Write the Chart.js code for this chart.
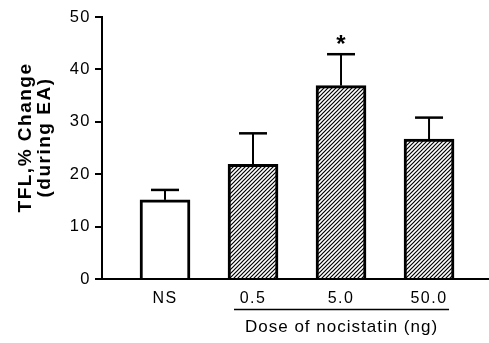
<!DOCTYPE html>
<html>
<head>
<meta charset="utf-8">
<script src="https://cdn.jsdelivr.net/npm/chart.js@4"></script>
<style>body{margin:0;background:#fff}</style>
</head>
<body>
<canvas id="chart" width="489" height="343"></canvas>
<script>
const groups = ['NS', '0.5', '5.0', '50.0'];
const positions = [1, 2, 3, 4];
const means = [15.1, 21.9, 36.9, 26.7];
const sems = [1.9, 5.9, 6.0, 4.1];
const marks = ['', '', '*', ''];
const yTicks = [0, 10, 20, 30, 40, 50];
const yTitle = ['TFL,% Change', '(during EA)'];
const doseTitle = 'Dose of nocistatin (ng)';
const hatched = [false, true, true, true];

const FONT = '"Liberation Sans", Arial, sans-serif';

function makeHatch() {
  const c = document.createElement('canvas');
  c.width = 4; c.height = 4;
  const g = c.getContext('2d');
  g.fillStyle = '#fff';
  g.fillRect(0, 0, 4, 4);
  g.strokeStyle = '#000';
  g.lineWidth = 1.2;
  g.beginPath();
  g.moveTo(-1, 5); g.lineTo(5, -1);
  g.moveTo(-1, 1); g.lineTo(1, -1);
  g.moveTo(3, 5); g.lineTo(5, 3);
  g.stroke();
  return g.createPattern(c, 'repeat');
}
const hatch = makeHatch();

// letter spacing for the axis text, like the scanned figure
const spacing = {
  id: 'spacing',
  beforeDraw(chart) {
    chart.ctx.letterSpacing = '1.5px';
  }
};

const extras = {
  id: 'extras',
  afterDatasetsDraw(chart) {
    const ctx = chart.ctx;
    const x = chart.scales.x, y = chart.scales.y;
    ctx.save();
    ctx.strokeStyle = '#000';
    ctx.fillStyle = '#000';
    for (let i = 0; i < means.length; i++) {
      const px = x.getPixelForValue(positions[i]);
      const y0 = y.getPixelForValue(means[i]);
      const y1 = y.getPixelForValue(means[i] + sems[i]);
      ctx.lineWidth = 2;
      ctx.beginPath();
      ctx.moveTo(px, y0);
      ctx.lineTo(px, y1);
      ctx.stroke();
      ctx.lineWidth = 2.5;
      ctx.beginPath();
      ctx.moveTo(px - 14, y1);
      ctx.lineTo(px + 14, y1);
      ctx.stroke();
      if (marks[i]) {
        ctx.letterSpacing = '0px';
        ctx.font = 'bold 24px ' + FONT;
        ctx.textAlign = 'center';
        ctx.textBaseline = 'alphabetic';
        ctx.fillText(marks[i], px, y1 - 2);
      }
    }
    ctx.restore();
  },
  afterDraw(chart) {
    const ctx = chart.ctx;
    const x = chart.scales.x;
    ctx.save();
    ctx.fillStyle = '#000';
    ctx.strokeStyle = '#000';
    // underline below the doses
    const x1 = x.getPixelForValue(positions[1]) - 19;
    const x2 = x.getPixelForValue(positions[3]) + 20;
    ctx.lineWidth = 1.5;
    ctx.beginPath();
    ctx.moveTo(x1, 309.5);
    ctx.lineTo(x2, 309.5);
    ctx.stroke();
    ctx.letterSpacing = '1px';
    ctx.font = '17px ' + FONT;
    ctx.textAlign = 'center';
    ctx.textBaseline = 'alphabetic';
    ctx.fillText(doseTitle, (x1 + x2) / 2, 332);
    // y title
    ctx.letterSpacing = '1.5px';
    ctx.font = 'bold 19px ' + FONT;
    ctx.translate(0, 137.5);
    ctx.rotate(-Math.PI / 2);
    ctx.fillText(yTitle[0], 0, 31);
    ctx.fillText(yTitle[1], 0, 50);
    ctx.restore();
  }
};

new Chart(document.getElementById('chart'), {
  type: 'bar',
  data: {
    datasets: [{
      data: positions.map((p, i) => ({x: p, y: means[i]})),
      backgroundColor: hatched.map(h => h ? hatch : '#ffffff'),
      borderColor: '#000',
      borderWidth: 3,
      barThickness: 50
    }]
  },
  options: {
    responsive: false,
    animation: false,
    layout: { padding: { top: 17, right: 1, left: 0, bottom: 0 } },
    plugins: { legend: { display: false }, tooltip: { enabled: false } },
    scales: {
      x: {
        type: 'linear',
        offset: false,
        min: 0.284,
        max: 4.67,
        afterBuildTicks: s => { s.ticks = positions.map(v => ({value: v})); },
        afterFit: s => { s.height = 64; },
        grid: { display: false, drawTicks: false },
        border: { color: '#000', width: 2 },
        ticks: {
          color: '#000',
          padding: 10,
          font: { family: FONT, size: 16 },
          callback: v => groups[positions.indexOf(v)]
        }
      },
      y: {
        min: 0,
        max: 50,
        afterBuildTicks: s => { s.ticks = yTicks.map(v => ({value: v})); },
        afterFit: s => { s.width = 102; },
        grid: { drawOnChartArea: false, color: '#000', lineWidth: 2, tickLength: 7 },
        border: { color: '#000', width: 2 },
        ticks: {
          color: '#000',
          padding: 4,
          font: { family: FONT, size: 16.5 }
        }
      }
    }
  },
  plugins: [spacing, extras]
});
</script>
</body>
</html>
